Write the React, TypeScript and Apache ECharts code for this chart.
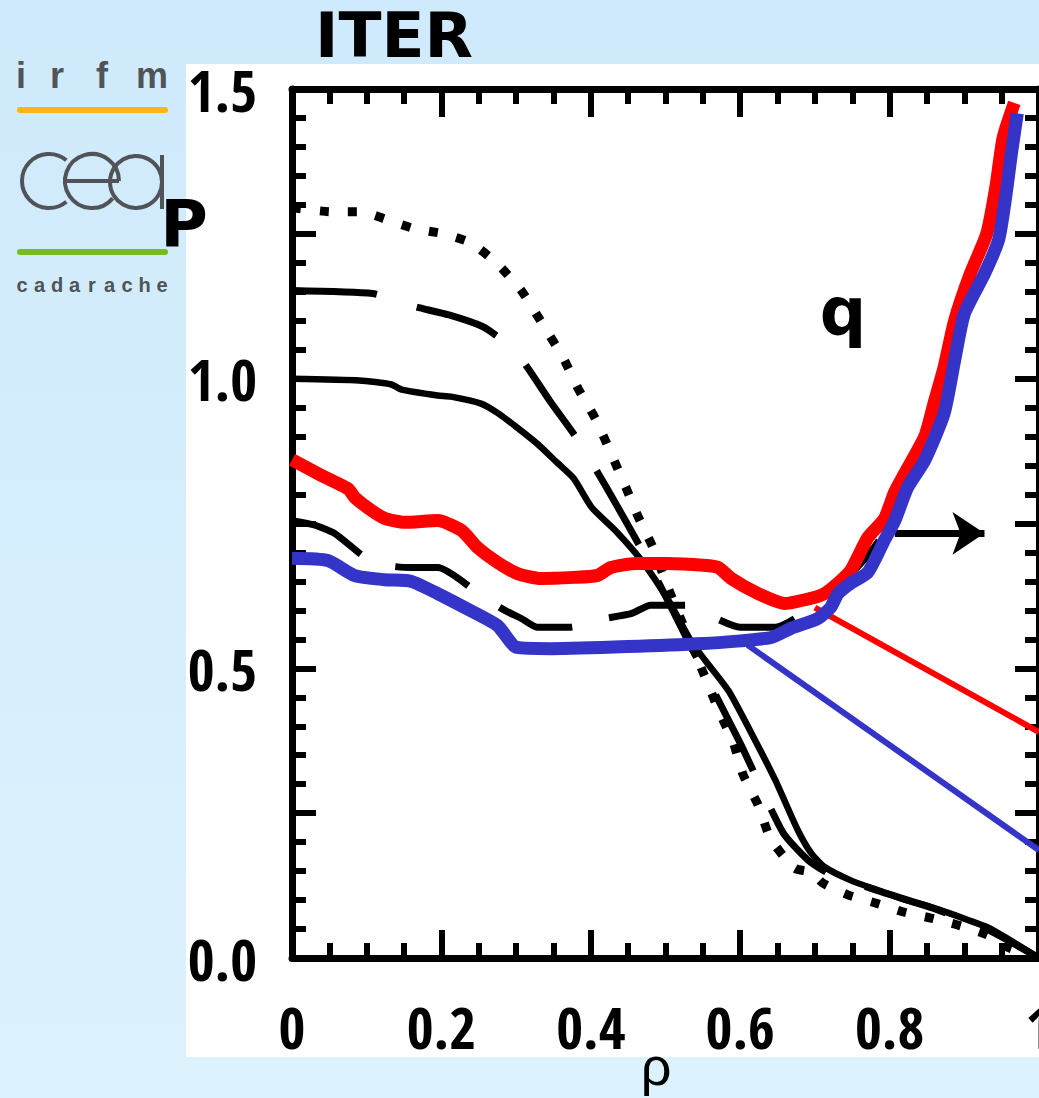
import React, { useEffect, useRef } from "react";
import * as echarts from "echarts";

// ---- data (rho, value) ----
const pDotted: number[][] = [
  [0, 1.295], [0.055, 1.288], [0.092, 1.288], [0.128, 1.274], [0.164, 1.259], [0.203, 1.25],
  [0.24, 1.234], [0.275, 1.198], [0.307, 1.152], [0.336, 1.093], [0.363, 1.036], [0.383, 0.983],
  [0.407, 0.929], [0.427, 0.871], [0.447, 0.812], [0.464, 0.76], [0.483, 0.709], [0.501, 0.647],
  [0.521, 0.583], [0.551, 0.491], [0.571, 0.428], [0.591, 0.371], [0.604, 0.316], [0.624, 0.264],
  [0.641, 0.205], [0.673, 0.155], [0.695, 0.148], [0.711, 0.129], [0.744, 0.109], [0.781, 0.095],
  [0.82, 0.079], [0.855, 0.069], [0.891, 0.057], [0.931, 0.04], [0.957, 0.019], [1.0, 0.0],
];
const pDashed: number[][] = [
  [0, 1.152], [0.108, 1.147], [0.135, 1.137], [0.159, 1.126], [0.21, 1.11], [0.255, 1.09],
  [0.28, 1.068], [0.307, 1.034], [0.345, 0.962], [0.385, 0.89], [0.421, 0.812], [0.471, 0.698],
  [0.535, 0.535], [0.6, 0.371], [0.657, 0.217], [0.69, 0.17], [0.72, 0.145], [0.78, 0.118],
  [0.86, 0.085], [0.93, 0.05], [1.0, 0.0],
];
const pSolid: number[][] = [
  [0, 1.0], [0.09, 0.997], [0.133, 0.99], [0.147, 0.981], [0.195, 0.971], [0.213, 0.969],
  [0.253, 0.957], [0.275, 0.941], [0.301, 0.916], [0.328, 0.888], [0.355, 0.855], [0.377, 0.828],
  [0.401, 0.778], [0.435, 0.735], [0.468, 0.686], [0.504, 0.617], [0.535, 0.545], [0.553, 0.514],
  [0.584, 0.462], [0.615, 0.388], [0.647, 0.307], [0.677, 0.221], [0.695, 0.181], [0.713, 0.157],
  [0.748, 0.134], [0.784, 0.117], [0.815, 0.103], [0.86, 0.086], [0.904, 0.066], [0.931, 0.053],
  [0.961, 0.031], [1.0, 0.0],
];
const qDashed: number[][] = [
  [0, 0.755], [0.031, 0.747], [0.057, 0.733], [0.107, 0.683], [0.135, 0.676], [0.16, 0.674],
  [0.195, 0.674], [0.257, 0.622], [0.285, 0.6], [0.307, 0.586], [0.328, 0.571], [0.373, 0.571],
  [0.407, 0.583], [0.455, 0.595], [0.48, 0.609], [0.528, 0.609], [0.553, 0.595], [0.6, 0.571],
  [0.647, 0.571], [0.69, 0.6], [0.73, 0.645], [0.757, 0.675], [0.78, 0.71], [0.8, 0.75], [0.83, 0.82],
];
const qRed: number[][] = [
  [0, 0.86], [0.035, 0.836], [0.075, 0.81], [0.084, 0.795], [0.107, 0.772], [0.124, 0.759],
  [0.151, 0.752], [0.195, 0.755], [0.227, 0.738], [0.248, 0.709], [0.275, 0.683], [0.301, 0.664],
  [0.333, 0.655], [0.377, 0.657], [0.408, 0.66], [0.427, 0.674], [0.461, 0.681], [0.501, 0.681],
  [0.551, 0.678], [0.571, 0.674], [0.588, 0.655], [0.624, 0.629], [0.66, 0.612], [0.695, 0.621],
  [0.713, 0.629], [0.731, 0.647], [0.748, 0.669], [0.771, 0.726], [0.793, 0.758], [0.807, 0.805],
  [0.82, 0.836], [0.847, 0.9], [0.86, 0.96], [0.873, 1.02], [0.887, 1.1], [0.908, 1.181],
  [0.93, 1.25], [0.942, 1.329], [0.952, 1.416], [0.967, 1.476],
];
const qBlue: number[][] = [
  [0, 0.69], [0.048, 0.686], [0.084, 0.66], [0.124, 0.653], [0.16, 0.65], [0.195, 0.629],
  [0.231, 0.605], [0.275, 0.574], [0.301, 0.536], [0.347, 0.534], [0.551, 0.543], [0.641, 0.553],
  [0.668, 0.569], [0.704, 0.586], [0.721, 0.605], [0.731, 0.629], [0.748, 0.647], [0.771, 0.666],
  [0.793, 0.721], [0.807, 0.755], [0.824, 0.812], [0.847, 0.859], [0.873, 0.94], [0.887, 1.031],
  [0.9, 1.112], [0.927, 1.181], [0.946, 1.24], [0.956, 1.319], [0.963, 1.388], [0.971, 1.458],
];
const redThin: number[][] = [[0.7, 0.605], [1.0, 0.39]];
const blueThin: number[][] = [[0.61, 0.54], [1.0, 0.186]];
const arrowFrom: number[] = [0.807, 0.733];
const arrowTo: number[] = [0.927, 0.733];

const xTickLabels = ["0", "0.2", "0.4", "0.6", "0.8", "1"];
const yTickLabels = ["0.0", "0.5", "1.0", "1.5"];

const irfmLetters = ["i", "r", "f", "m"];
const cadaracheText = "cadarache";

const BLACK = "#000";
const RED = "#ff0000";
const BLUE = "#3434c8";
const GREY = "#505458";
const NUM_FONT = "'Open Sans Condensed', 'Liberation Sans Narrow', 'Liberation Sans', sans-serif";

export default function App() {
  const ref = useRef<HTMLDivElement>(null);

  useEffect(() => {
    if (!ref.current) return;
    const chart = echarts.init(ref.current, undefined, { renderer: "svg" });

    const tickStyle = { color: BLACK, width: 6 };
    const xAxisBase = {
      type: "value",
      min: 0,
      max: 1,
      interval: 0.2,
      axisLine: { show: true, onZero: false, lineStyle: { color: BLACK, width: 7 } },
      axisTick: { show: true, inside: true, length: 28, lineStyle: tickStyle },
      minorTick: { show: true, splitNumber: 4, length: 15, lineStyle: tickStyle },
      splitLine: { show: false },
      minorSplitLine: { show: false },
    };
    const yAxisBase = {
      type: "value",
      min: 0,
      max: 1.5,
      interval: 0.25,
      axisLine: { show: true, onZero: false, lineStyle: { color: BLACK, width: 7 } },
      axisTick: { show: true, inside: true, length: 24, lineStyle: tickStyle },
      minorTick: { show: true, splitNumber: 5, length: 14, lineStyle: tickStyle },
      splitLine: { show: false },
      minorSplitLine: { show: false },
    };

    const lineSeries = (name: string, data: number[][], color: string, width: number, type: any, z = 2) => ({
      name,
      type: "line",
      data,
      xAxisIndex: 0,
      yAxisIndex: 0,
      symbol: "none",
      smooth: 0.2,
      z,
      silent: true,
      lineStyle: { color, width, type, cap: "butt", join: "round" },
    });

    const letterGraphics: any[] = [];
    const irfmX = [21, 57, 102, 152];
    irfmLetters.forEach((ch, i) => {
      letterGraphics.push({
        type: "text",
        x: irfmX[i],
        y: 75,
        style: {
          text: ch,
          fill: GREY,
          fontSize: 36,
          fontWeight: "bold",
          fontFamily: "'Liberation Sans', sans-serif",
          align: "center",
          verticalAlign: "middle",
          textAlign: "center",
          textVerticalAlign: "middle",
        },
      });
    });
    cadaracheText.split("").forEach((ch, i) => {
      letterGraphics.push({
        type: "text",
        x: 22 + i * 17.5,
        y: 285,
        style: {
          text: ch,
          fill: GREY,
          fontSize: 20,
          fontWeight: "bold",
          fontFamily: "'Liberation Sans', sans-serif",
          align: "center",
          verticalAlign: "middle",
          textAlign: "center",
          textVerticalAlign: "middle",
        },
      });
    });

    const bigText = (text: string, x: number, y: number, size: number, weight: string, family: string) => ({
      type: "text",
      x,
      y,
      z: 10,
      style: {
        text,
        fill: BLACK,
        fontSize: size,
        fontWeight: weight,
        fontFamily: family,
        align: "center",
        verticalAlign: "middle",
        textAlign: "center",
        textVerticalAlign: "middle",
      },
    });

    const option: any = {
      animation: false,
      backgroundColor: new echarts.graphic.LinearGradient(0, 0, 0, 1, [
        { offset: 0, color: "#cfeafc" },
        { offset: 1, color: "#dcf2fd" },
      ]),
      grid: { left: 292, right: 0, top: 89, bottom: 140, containLabel: false, outerBoundsMode: "none" },
      xAxis: [
        {
          ...xAxisBase,
          position: "bottom",
          axisLabel: {
            show: true,
            margin: 39,
            color: BLACK,
            fontSize: 58,
            fontWeight: "bold",
            fontFamily: NUM_FONT,
            hideOverlap: false,
            formatter: (v: number) => xTickLabels[Math.round(v / 0.2)] ?? "",
          },
        },
        { ...xAxisBase, position: "top", axisLabel: { show: false } },
      ],
      yAxis: [
        {
          ...yAxisBase,
          position: "left",
          axisLabel: {
            show: true,
            margin: 35,
            color: BLACK,
            fontSize: 58,
            fontWeight: "bold",
            fontFamily: NUM_FONT,
            formatter: (v: number) => {
              const k = v / 0.5;
              return Math.abs(k - Math.round(k)) < 1e-6 ? yTickLabels[Math.round(k)] ?? "" : "";
            },
          },
        },
        { ...yAxisBase, position: "right", axisLabel: { show: false } },
      ],
      series: [
        lineSeries("P dotted", pDotted, BLACK, 9, [9, 19], 2),
        lineSeries("P dashed", pDashed, BLACK, 7, [85, 42], 2),
        lineSeries("P solid", pSolid, BLACK, 6.5, "solid", 2),
        lineSeries("q dashed", qDashed, BLACK, 7, [78, 38], 2),
        lineSeries("q red linear", redThin, RED, 6, "solid", 3),
        lineSeries("q blue linear", blueThin, BLUE, 6, "solid", 3),
        {
          name: "arrow",
          type: "lines",
          coordinateSystem: "cartesian2d",
          xAxisIndex: 0,
          yAxisIndex: 0,
          z: 3,
          silent: true,
          symbol: ["none", "arrow"],
          symbolSize: 32,
          lineStyle: { color: BLACK, width: 7, opacity: 1, curveness: 0 },
          data: [{ coords: [arrowFrom, arrowTo] }],
        },
        lineSeries("q red", qRed, RED, 13, "solid", 4),
        lineSeries("q blue", qBlue, BLUE, 13, "solid", 5),
      ],
      graphic: {
        elements: [
          {
            type: "rect",
            z: -10,
            shape: { x: 186, y: 64, width: 870, height: 993 },
            style: { fill: "#ffffff" },
            silent: true,
          },
          // irfm / cea / cadarache logo
          ...letterGraphics,
          {
            type: "line",
            shape: { x1: 20, y1: 110, x2: 165, y2: 110 },
            style: { stroke: "#fdb515", lineWidth: 6, lineCap: "round" },
          },
          {
            type: "line",
            shape: { x1: 20, y1: 252, x2: 165, y2: 252 },
            style: { stroke: "#76bc21", lineWidth: 6, lineCap: "round" },
          },
          {
            type: "arc",
            shape: { cx: 49, cy: 181, r: 27, startAngle: (Math.PI * 50) / 180, endAngle: (Math.PI * 310) / 180, clockwise: true },
            style: { stroke: GREY, lineWidth: 4, fill: "none" },
          },
          {
            type: "arc",
            shape: { cx: 92, cy: 181, r: 27, startAngle: (Math.PI * 40) / 180, endAngle: Math.PI * 2, clockwise: true },
            style: { stroke: GREY, lineWidth: 4, fill: "none" },
          },
          {
            type: "line",
            shape: { x1: 65, y1: 181, x2: 119, y2: 181 },
            style: { stroke: GREY, lineWidth: 4 },
          },
          {
            type: "circle",
            shape: { cx: 136, cy: 182, r: 26 },
            style: { stroke: GREY, lineWidth: 4, fill: "none" },
          },
          {
            type: "line",
            shape: { x1: 162, y1: 155, x2: 162, y2: 209 },
            style: { stroke: GREY, lineWidth: 4 },
          },
          bigText("ITER", 394, 35, 63, "bold", "'DejaVu Sans', sans-serif"),
          bigText("P", 184, 224, 65, "bold", "'DejaVu Sans', sans-serif"),
          bigText("q", 843, 311, 65, "bold", "'DejaVu Sans', sans-serif"),
          bigText("ρ", 656, 1066, 54, "normal", "'Liberation Sans', sans-serif"),
        ],
      },
    };

    chart.setOption(option);
    return () => chart.dispose();
  }, []);

  return (
    <div
      ref={ref}
      style={{ position: "fixed", left: 0, top: 0, width: 1039, height: 1098, overflow: "hidden" }}
    />
  );
}
